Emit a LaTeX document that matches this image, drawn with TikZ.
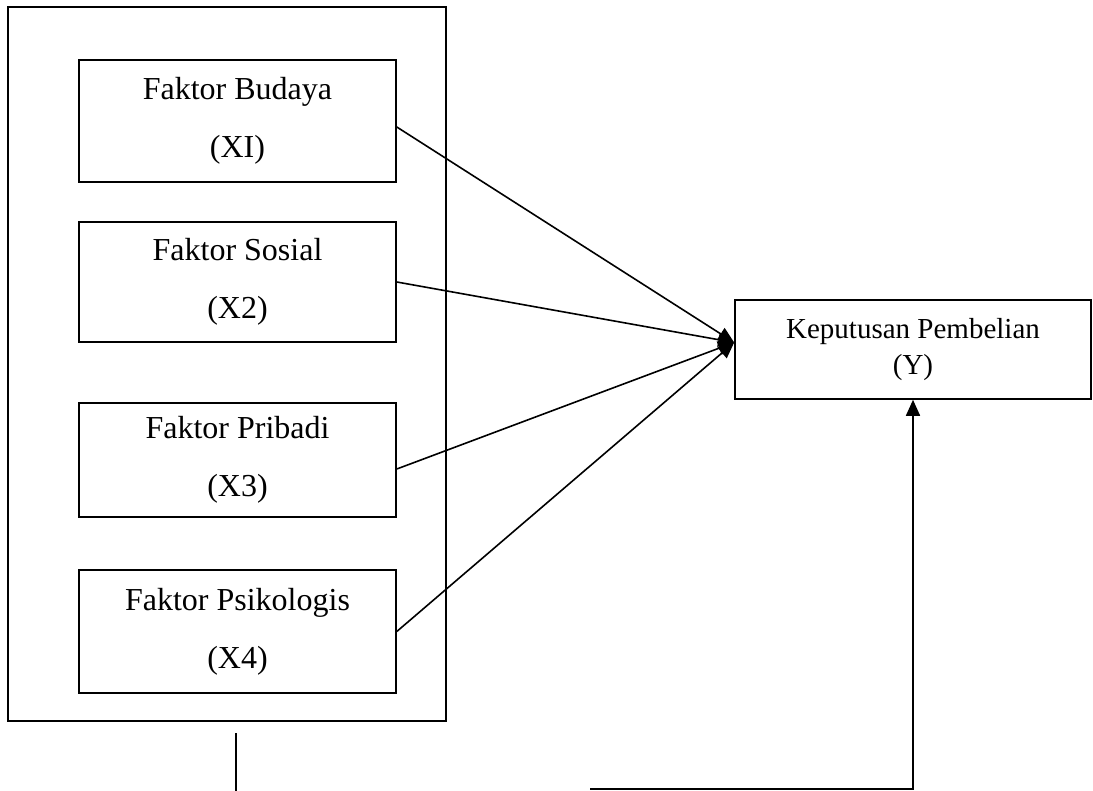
\documentclass[tikz,border=0pt]{standalone}
\usepackage{fontspec}
\setmainfont{Liberation Serif}
\usepackage{tikz}
\usetikzlibrary{arrows.meta,positioning,calc}

\begin{document}
\begin{tikzpicture}[x=1pt, y=-1pt,
    factor/.style={rectangle, draw=black, line width=1.6pt, minimum width=317pt, align=center, font=\fontsize{32}{58}\selectfont},
    result/.style={rectangle, draw=black, line width=1.6pt, minimum width=356pt, minimum height=99pt, align=center, font=\fontsize{29}{36}\selectfont},
    arrow/.style={-{Triangle[width=14pt,length=16pt]}, line width=1.6pt}
]
    \useasboundingbox (0,0) rectangle (1093,791);

    % Outer group
    \node[draw=black, line width=1.6pt, minimum width=438pt, minimum height=714pt] (group) at (227,364) {};

    % Factors
    \node[factor, minimum height=122pt] (budaya) at (237.5,121) {Faktor Budaya\\(XI)};
    \node[factor, minimum height=120pt] (sosial) at (237.5,282) {Faktor Sosial\\(X2)};
    \node[factor, minimum height=114pt] (pribadi) at (237.5,460) {Faktor Pribadi\\(X3)};
    \node[factor, minimum height=123pt] (psikologis) at (237.5,631.5) {Faktor Psikologis\\(X4)};

    % Result
    \node[result] (keputusan) at (913,349.5) {Keputusan Pembelian\\(Y)};
    \coordinate (hub) at ([yshift=7pt]keputusan.west);

    % Arrows
    \draw[arrow] ([yshift=-6pt]budaya.east) -- (hub);
    \draw[arrow] (sosial.east) -- (hub);
    \draw[arrow] ([yshift=-9pt]pribadi.east) -- (hub);
    \draw[arrow] (psikologis.east) -- (hub);

    % Bottom lines
    \coordinate (stubtop) at (236,733);
    \coordinate (stubend) at (236,791);
    \draw[line width=1.6pt] (stubtop) -- (stubend);
    \coordinate (loopstart) at (590,789);
    \draw[arrow] (loopstart) -| (keputusan.south);
\end{tikzpicture}
\end{document}
